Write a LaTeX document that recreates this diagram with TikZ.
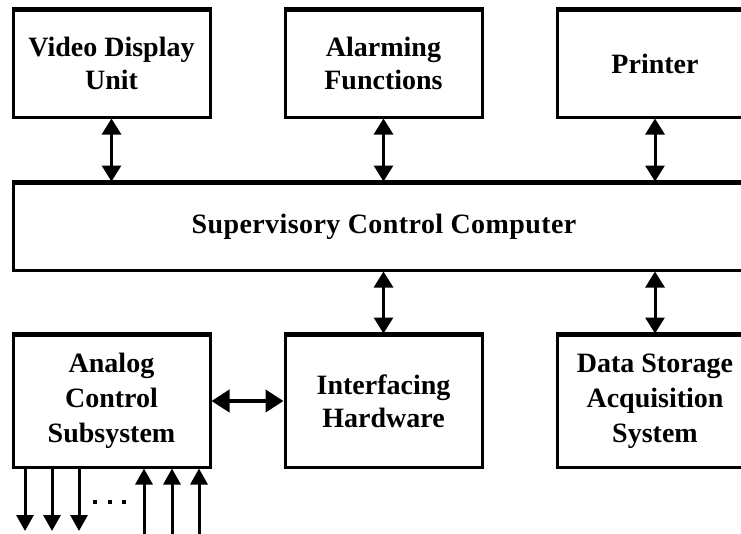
\documentclass[tikz,border=0pt]{standalone}
\usepackage{fontspec}
\newfontfamily\blockfont{Liberation Serif}
\usetikzlibrary{arrows.meta}
\tikzset{
  block/.style={draw, line width=3pt, inner sep=0pt, align=center,
    minimum width=197pt, minimum height=107pt,
    font=\blockfont\bfseries\fontsize{28}{33}\selectfont,
    % slightly heavier top edge on every box, flush with the sides
    append after command={
      \pgfextra{\draw[line width=4.5pt, line cap=butt]
        ([yshift=-1pt]\tikzlastnode.north west) -- ([yshift=-1pt]\tikzlastnode.north east);}}},
  tall/.style={minimum height=132pt, font=\blockfont\bfseries\fontsize{28}{35}\selectfont},
  link/.style={line width=3pt, {Triangle[length=16pt,width=19pt]}-{Triangle[length=16pt,width=19pt]}},
  wide link/.style={line width=4pt, {Triangle[length=18pt,width=22pt]}-{Triangle[length=18pt,width=22pt]}},
  signal/.style={line width=3pt, -{Triangle[length=16pt,width=17pt]}},
}
\begin{document}
\begin{tikzpicture}[x=1pt, y=-1pt]
\useasboundingbox (0,0) rectangle (741,533);
\clip (0,0) rectangle (741,533);

% top row
\node[block] (vdu) at (111.5,63.5) {Video Display\\Unit};
\node[block] (alarm) at (383.5,63.5) {Alarming\\Functions};
\node[block, minimum width=196pt] (printer) at (655,63.5) {Printer};

% central computer
\node[block, minimum width=742pt, minimum height=87pt] (sup) at (384,226.5)
  {\addfontfeatures{LetterSpace=1.5}Supervisory Control Computer};

% bottom row
\node[block, tall] (analog) at (111.5,401) {Analog\\Control\\Subsystem};
\node[block, minimum height=132pt] (iface) at (383.5,401) {Interfacing\\Hardware};
\node[block, tall, minimum width=196pt] (dsa) at (655,401) {Data Storage\\Acquisition\\System};

% connections to the computer
\draw[link] (vdu.south) -- (vdu.south |- sup.north);
\draw[link] (alarm.south) -- (alarm.south |- sup.north);
\draw[link] (printer.south) -- (printer.south |- sup.north);
\draw[link] (iface.north |- sup.south) -- (iface.north);
\draw[link] (dsa.north |- sup.south) -- (dsa.north);

% analog subsystem to interface
\draw[wide link] (analog.east) -- (iface.west);

% field outputs and inputs
\coordinate (o1) at (25,531);
\coordinate (o2) at (52,531);
\coordinate (o3) at (79,531);
\coordinate (i1) at (144,540);
\coordinate (i2) at (172,540);
\coordinate (i3) at (199,540);
\foreach \p in {o1,o2,o3} \draw[signal] (\p |- analog.south) -- (\p);
\foreach \p in {i1,i2,i3} \draw[signal] (\p) -- (\p |- analog.south);

% ellipsis between the signal groups
\foreach \x in {95,109.5,124} \fill (\x-2,500) rectangle (\x+2,504);
\end{tikzpicture}
\end{document}
